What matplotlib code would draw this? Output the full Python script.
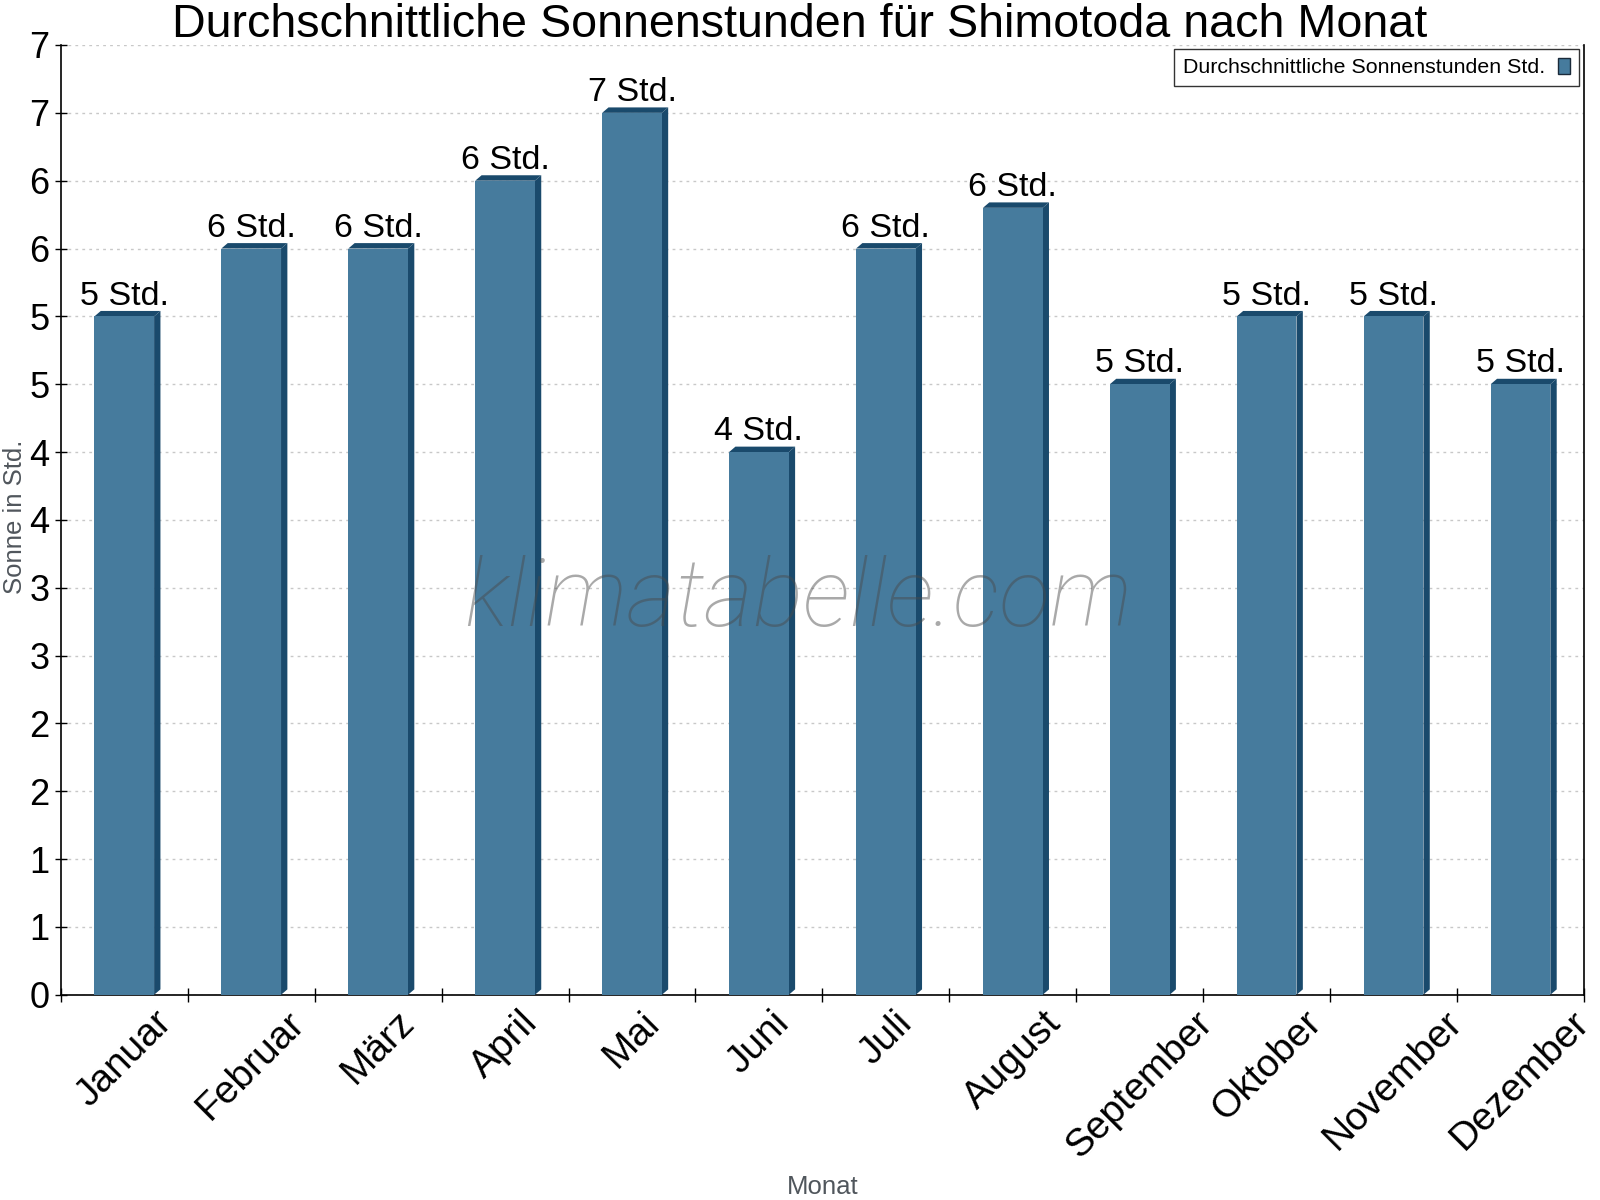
import matplotlib
matplotlib.use("Agg")
import matplotlib.pyplot as plt
from matplotlib.patches import Polygon, Patch
import numpy as np
import math

months = ["Januar", "Februar", "März", "April", "Mai", "Juni", "Juli",
          "August", "September", "Oktober", "November", "Dezember"]
sun_hours = [5.0, 5.5, 5.5, 6.0, 6.5, 4.0, 5.5, 5.8, 4.5, 5.0, 5.0, 4.5]
y_ticks = [i * 0.5 for i in range(15)]

title = "Durchschnittliche Sonnenstunden für Shimotoda nach Monat"
legend_label = "Durchschnittliche Sonnenstunden Std."

def rhu(v):
    return int(math.floor(v + 0.5))

plt.rcParams['font.family'] = ['Liberation Sans', 'DejaVu Sans']

front = "#467B9D"
dark = "#1A4A6C"
label_gray = "#50565c"

fig = plt.figure(figsize=(16, 12), dpi=100)
ax = fig.add_axes([0.038, 0.171, 0.952, 0.7915])

x = np.arange(len(months))
w = 0.47
dx = 0.05
dy = 0.04
for xi, h in zip(x, sun_hours):
    xl = xi - w / 2
    xr = xi + w / 2
    ax.add_patch(Polygon([(xr, 0), (xr + dx, dy), (xr + dx, h + dy), (xr, h)],
                         closed=True, facecolor=dark, edgecolor='none', zorder=3))
    ax.add_patch(Polygon([(xl, h), (xl + dx, h + dy), (xr + dx, h + dy), (xr, h)],
                         closed=True, facecolor=dark, edgecolor='none', zorder=3))
bars = ax.bar(x, sun_hours, width=w, color=front, zorder=4)
for xi, h in zip(x, sun_hours):
    ax.text(xi, h + dy - 0.005, f"{rhu(h)} Std.", ha='center', va='bottom',
            fontsize=24.5, color='black', zorder=5)

ax.set_xlim(-0.5, len(months) - 0.5)
ax.set_ylim(0, 7)
ax.set_xticks(np.arange(-0.5, len(months), 1.0))
ax.set_xticklabels([])
ax.set_xticks(x, minor=True)
ax.set_xticklabels(months, minor=True, rotation=45, ha='center', va='top', fontsize=28)
ax.tick_params(axis='x', which='minor', length=0, pad=7)

ax.tick_params(axis='x', which='major', direction='inout', length=10, width=1)
ax.set_yticks(y_ticks)
ax.set_yticklabels([str(rhu(v)) for v in y_ticks], fontsize=26)
ax.tick_params(axis='y', direction='inout', length=8, width=1, pad=4)

ax.grid(axis='y', linestyle=(0, (2, 3)), color='#c8c8c8', linewidth=1, zorder=0)
ax.set_axisbelow(True)
ax.spines['top'].set_visible(False)
for s in ['left', 'bottom', 'right']:
    ax.spines[s].set_color('black')
    ax.spines[s].set_linewidth(1.2)

fig.text(0.0095, 0.569, "Sonne in Std.", rotation=90, ha='center', va='center',
         fontsize=18.5, color=label_gray)
fig.text(0.514, 1 - 1194 / 1200, "Monat", ha='center', va='baseline',
         fontsize=18.5, color=label_gray)

fig.text(0.5, 1 - 37 / 1200, title, ha='center', va='baseline', fontsize=33.6, color='black')

fig.text(0.4985, 0.5, "klimatabelle.com", ha='center', va='center',
         fontsize=68, style='italic', fontweight='light', family=['Roboto', 'DejaVu Sans'],
         color='#4a4a4a', alpha=0.47, zorder=6)

handle = Patch(facecolor=front, edgecolor='#1a2a3a', linewidth=1)
leg = ax.legend([handle], [legend_label], loc='upper right', markerfirst=False,
                fontsize=15.4, frameon=True, fancybox=False, edgecolor='black',
                borderpad=0.4, handletextpad=0.6, handlelength=0.58, handleheight=0.82,
                borderaxespad=0, bbox_to_anchor=(0.9967, 0.9958))
leg.get_frame().set_linewidth(1)

fig.savefig("out.png", dpi=100)
